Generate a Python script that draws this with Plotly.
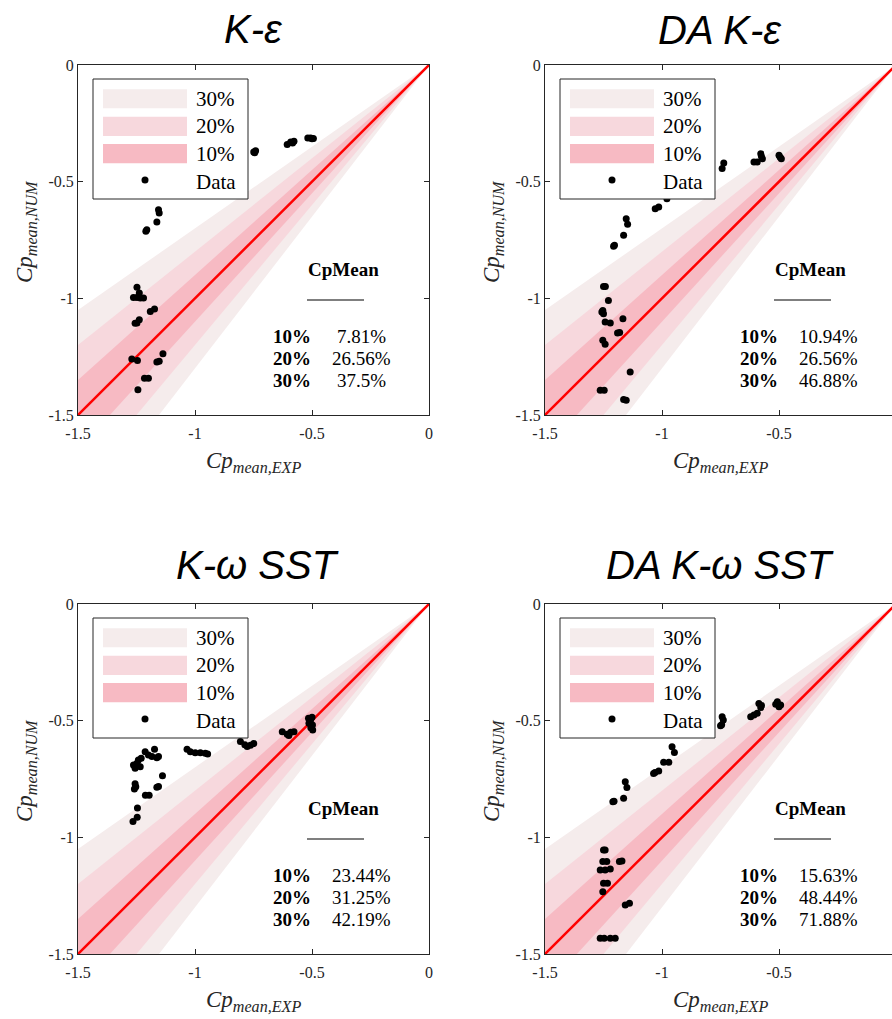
import plotly.graph_objects as go

# ---------------- data ----------------
TICK_VALS = [-1.5, -1.0, -0.5, 0.0]
TICK_TEXT = ["-1.5", "-1", "-0.5", "0"]
AX_RANGE = [-1.5, 0.0]

BAND_PCTS = [0.30, 0.20, 0.10]
BAND_LABELS = ["30%", "20%", "10%"]
BAND_COLORS = ["#f5ecec", "#f7d8dd", "#f7bac3"]

TITLES = ["K-ε", "DA K-ε", "K-ω SST", "DA K-ω SST"]
ROW_LABELS = ["10%", "20%", "30%"]
SCORES_KE = ["7.81%", "26.56%", "37.5%"]
SCORES_DA_KE = ["10.94%", "26.56%", "46.88%"]
SCORES_KW = ["23.44%", "31.25%", "42.19%"]
SCORES_DA_KW = ["15.63%", "48.44%", "71.88%"]

ke_exp = [-0.518, -0.506, -0.494, -0.500, -0.606, -0.591, -0.577, -0.583,
          -0.749, -0.741, -0.745, -1.156, -1.153, -1.163, -1.210, -1.206,
          -1.248, -1.238, -1.263, -1.248, -1.234, -1.220, -1.191, -1.173,
          -1.248, -1.238, -1.256, -1.270, -1.246, -1.163, -1.153, -1.137,
          -1.216, -1.199, -1.244]
ke_num = [-0.313, -0.313, -0.315, -0.316, -0.341, -0.330, -0.327, -0.334,
          -0.373, -0.367, -0.376, -0.620, -0.634, -0.673, -0.713, -0.706,
          -0.953, -0.977, -0.996, -0.996, -0.999, -0.999, -1.056, -1.046,
          -1.106, -1.092, -1.107, -1.260, -1.266, -1.273, -1.270, -1.237,
          -1.342, -1.342, -1.392]

da_ke_exp = [-0.500, -0.490, -0.495, -0.578, -0.571, -0.607, -0.593, -0.575,
             -0.736, -0.743, -0.979, -1.014, -1.029, -1.153, -1.147, -1.164,
             -1.207, -1.203, -1.250, -1.242, -1.229, -1.257, -1.250, -1.253,
             -1.243, -1.221, -1.167, -1.190, -1.181, -1.253, -1.243, -1.136,
             -1.264, -1.247, -1.164, -1.153]
da_ke_num = [-0.387, -0.402, -0.395, -0.380, -0.402, -0.416, -0.416, -0.392,
             -0.420, -0.444, -0.573, -0.609, -0.616, -0.659, -0.683, -0.730,
             -0.777, -0.772, -0.949, -0.949, -1.009, -1.059, -1.066, -1.052,
             -1.101, -1.106, -1.087, -1.149, -1.146, -1.180, -1.197, -1.316,
             -1.394, -1.394, -1.434, -1.437]

kw_exp = [-0.515, -0.506, -0.513, -0.498, -0.500, -0.505, -0.497,
          -0.627, -0.606, -0.591, -0.577, -0.599,
          -0.806, -0.787, -0.763, -0.749, -0.777,
          -1.034, -1.020, -0.999, -0.977, -0.956, -0.946,
          -1.213, -1.199, -1.173, -1.184, -1.163, -1.156, -1.230, -1.242,
          -1.248, -1.263, -1.256, -1.234, -1.139, -1.156, -1.163,
          -1.256, -1.253, -1.259, -1.212, -1.196, -1.246, -1.247, -1.265]
kw_num = [-0.490, -0.497, -0.511, -0.519, -0.485, -0.530, -0.540,
          -0.547, -0.558, -0.550, -0.547, -0.564,
          -0.589, -0.603, -0.605, -0.598, -0.611,
          -0.623, -0.633, -0.637, -0.637, -0.640, -0.643,
          -0.633, -0.647, -0.623, -0.654, -0.659, -0.654, -0.661, -0.669,
          -0.683, -0.690, -0.704, -0.697, -0.736, -0.782, -0.785,
          -0.770, -0.783, -0.793, -0.820, -0.820, -0.874, -0.914, -0.932]

da_kw_exp = [-0.507, -0.500, -0.493, -0.514, -0.586, -0.578, -0.607, -0.621,
             -0.593, -0.575, -0.743, -0.738, -0.750, -0.745, -0.957, -0.947,
             -0.993, -0.971, -1.036, -1.014, -1.030, -1.157, -1.150, -1.164,
             -1.210, -1.205, -1.250, -1.243, -1.253, -1.236, -1.182, -1.171,
             -1.264, -1.243, -1.221, -1.250, -1.233, -1.253, -1.157, -1.139,
             -1.264, -1.247, -1.221, -1.200]
da_kw_num = [-0.419, -0.440, -0.433, -0.430, -0.426, -0.444, -0.476, -0.483,
             -0.468, -0.435, -0.483, -0.497, -0.522, -0.518, -0.612, -0.636,
             -0.678, -0.678, -0.726, -0.716, -0.722, -0.762, -0.786, -0.833,
             -0.847, -0.845, -1.054, -1.054, -1.104, -1.104, -1.104, -1.101,
             -1.140, -1.140, -1.136, -1.197, -1.197, -1.233, -1.290, -1.283,
             -1.433, -1.433, -1.433, -1.433]

SERIES = [(ke_exp, ke_num), (da_ke_exp, da_ke_num), (kw_exp, kw_num), (da_kw_exp, da_kw_num)]
SCORES = [SCORES_KE, SCORES_DA_KE, SCORES_KW, SCORES_DA_KW]

# ---------------- layout geometry (pixels) ----------------
W, H = 892, 1019
PANELS = [(78, 65, 429, 415), (545, 65, 896, 415), (78, 604, 429, 954), (545, 604, 896, 954)]
TITLE_POS = [(253, 29), (720, 30), (257, 565), (720, 565)]

AX_COLOR = "#262626"
SERIF = "Liberation Serif, Times New Roman, serif"
SANS = "Liberation Sans, Arial, sans-serif"


def px(x):
    return x / W


def py(y):
    return 1 - y / H


def text_ann(x, y, text, size, family=SERIF, color="black", xanchor="center", angle=0):
    return dict(x=px(x), y=py(y), xref="paper", yref="paper", text=text, showarrow=False,
                xanchor=xanchor, yanchor="middle", textangle=angle,
                font=dict(family=family, size=size, color=color))


fig = go.Figure()
shapes = []
annotations = []

for i, ((xs, ys), (L, T, R, B)) in enumerate(zip(SERIES, PANELS)):
    n = "" if i == 0 else str(i + 1)
    xa, ya = "x" + n, "y" + n
    # bands (wedges from origin)
    lo = AX_RANGE[0]
    for pct, col in zip(BAND_PCTS, BAND_COLORS):
        up = 1 - pct
        dn = 1 + pct
        bx = [0.0, lo, lo, lo / dn, 0.0]
        by = [0.0, lo * up, lo, lo, 0.0]
        fig.add_trace(go.Scatter(x=bx, y=by, fill="toself", fillcolor=col, mode="none",
                                 line=dict(width=0), hoverinfo="skip", showlegend=False,
                                 xaxis=xa, yaxis=ya))
    fig.add_trace(go.Scatter(x=AX_RANGE, y=AX_RANGE, mode="lines",
                             line=dict(color="#ff0000", width=2.5), showlegend=False,
                             xaxis=xa, yaxis=ya))
    fig.add_trace(go.Scatter(x=xs, y=ys, mode="markers",
                             marker=dict(color="black", size=7), showlegend=False,
                             cliponaxis=False, xaxis=xa, yaxis=ya))

    # axes
    right = min(R, W)
    xmax = AX_RANGE[0] + (right - L) / ((R - L) / (AX_RANGE[1] - AX_RANGE[0]))
    clipped = R > W
    common = dict(ticks="inside", ticklen=5, tickcolor=AX_COLOR, tickwidth=1,
                  showline=True, linecolor=AX_COLOR, linewidth=1,
                  showgrid=False, zeroline=False, tickvals=TICK_VALS, ticktext=TICK_TEXT,
                  tickfont=dict(family=SERIF, size=16, color=AX_COLOR))
    fig.layout["xaxis" + n] = dict(common, domain=[px(L), px(right)], range=[AX_RANGE[0], xmax],
                                   anchor=ya, mirror="ticks", ticklabelstandoff=4)
    fig.layout["yaxis" + n] = dict(common, domain=[py(B), py(T)], range=AX_RANGE,
                                   anchor=xa, mirror=False if clipped else "ticks")
    if clipped:
        annotations.append(text_ann(R, B + 22, "0", 16, color=AX_COLOR))

    # axis titles
    annotations.append(text_ann((L + R) / 2, B + 47, "<i>Cp</i><sub><i>mean,EXP</i></sub>", 23,
                                color=AX_COLOR))
    annotations.append(text_ann(L - 52, (T + B) / 2 - 8, "<i>Cp</i><sub><i>mean,NUM</i></sub>", 23,
                                color=AX_COLOR, angle=-90))
    # panel title
    tx, ty = TITLE_POS[i]
    annotations.append(text_ann(tx, ty, "<i>" + TITLES[i] + "</i>", 40, family=SANS))

    # custom legend box
    shapes.append(dict(type="rect", xref="paper", yref="paper",
                       x0=px(L + 15), x1=px(L + 170), y0=py(T + 134), y1=py(T + 14),
                       fillcolor="white", line=dict(color=AX_COLOR, width=1), layer="above"))
    sw_rows = [(24.3, 43.3), (51.7, 71.0), (79.0, 98.3)]
    for (y0, y1), col, lab in zip(sw_rows, BAND_COLORS, BAND_LABELS):
        shapes.append(dict(type="rect", xref="paper", yref="paper",
                           x0=px(L + 25), x1=px(L + 109), y0=py(T + y1), y1=py(T + y0),
                           fillcolor=col, line=dict(width=0), layer="above"))
        annotations.append(text_ann(L + 116, T + (y0 + y1) / 2, lab, 21, xanchor="left"))
    shapes.append(dict(type="circle", xref="paper", yref="paper",
                       x0=px(L + 63.5), x1=px(L + 70.5), y0=py(T + 118.5), y1=py(T + 111.5),
                       fillcolor="black", line=dict(width=0), layer="above"))
    annotations.append(text_ann(L + 116, T + 116.5, "Data", 21, xanchor="left"))

    # CpMean summary
    annotations.append(text_ann(L + 265, T + 204, "<b>CpMean</b>", 19))
    shapes.append(dict(type="line", xref="paper", yref="paper",
                       x0=px(L + 229), x1=px(L + 286), y0=py(T + 235), y1=py(T + 235),
                       line=dict(color="black", width=1.2), layer="above"))
    for k, (lab, val) in enumerate(zip(ROW_LABELS, SCORES[i])):
        yy = T + 271 + 22 * k
        annotations.append(text_ann(L + 214, yy, "<b>" + lab + "</b>", 19))
        annotations.append(text_ann(L + 283, yy, val, 19))

fig.update_layout(width=W, height=H,
                  margin=dict(l=0, r=0, t=0, b=0, pad=0, autoexpand=False),
                  paper_bgcolor="white", plot_bgcolor="white",
                  shapes=shapes, annotations=annotations, showlegend=False)

fig.write_html("out.html", config={"displayModeBar": False},
               post_script="document.body.style.margin='0';document.body.style.overflow='hidden';")
